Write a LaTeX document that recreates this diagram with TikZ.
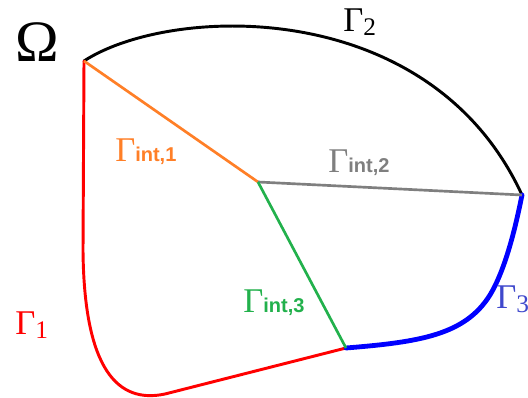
\documentclass[tikz,border=0pt]{standalone}
\usepackage{fontspec}
\setmainfont{Liberation Serif}
\setsansfont{Liberation Sans}

\definecolor{gorange}{RGB}{255,127,39}
\definecolor{ggray}{RGB}{127,127,127}
\definecolor{ggreen}{RGB}{34,177,76}
\definecolor{gblue}{RGB}{0,0,255}
\definecolor{glabelblue}{RGB}{63,72,204}

\newcommand{\gint}[1]{Γ{\fontsize{15}{15}\selectfont\sffamily\bfseries int,#1}}
\newcommand{\gsub}[1]{Γ\raisebox{-3pt}{\fontsize{19}{19}\selectfont #1}}

\begin{document}
\begin{tikzpicture}[x=0.75pt,y=-0.75pt,
    lbl/.style={anchor=base west,inner sep=0pt,font=\fontsize{26}{26}\selectfont},
    bnd/.style={line width=2.2pt,line cap=round,line join=round},
    intf/.style={line width=2pt}]
        \useasboundingbox[fill=white] (0,0) rectangle (528,398);

        \coordinate (A) at (84,61);
        \coordinate (C) at (258,182);
        \coordinate (R) at (522,195);
        \coordinate (J) at (346,348);

        % outer boundary
        \draw[bnd,black] (A) .. controls (170,5) and (430,-5) .. (R);
        \draw[bnd,red] (A) -- (83,250) .. controls (84,370) and (118,404) .. (165,394) -- (J);
        \draw[bnd,gblue,line width=3.6pt] (J) .. controls (420,342) and (465,335) .. (490,295)
            .. controls (505,270) and (515,230) .. (R);

        % interfaces
        \draw[intf,gorange] (A) -- (C);
        \draw[intf,ggray] (C) -- (R);
        \draw[intf,ggreen] (C) -- (J);

        \node[lbl,font=\fontsize{44}{44}\selectfont] (om) at (15,62) {Ω};
        \node[lbl] (g2) at (343,32) {\gsub{2}};
        \node[lbl,red] (g1) at (15,335) {\gsub{1}};
        \node[lbl,glabelblue] (g3) at (496,309) {\gsub{3}};
        \node[lbl,gorange] (gi1) at (115,162) {\gint{1}};
        \node[lbl,ggray] (gi2) at (328,173) {\gint{2}};
        \node[lbl,ggreen] (gi3) at (243,313) {\gint{3}};
    \end{tikzpicture}
\end{document}
